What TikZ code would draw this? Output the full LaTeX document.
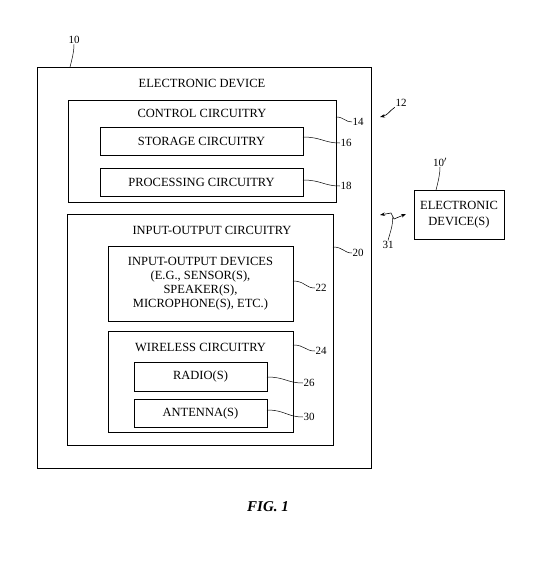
\documentclass[tikz,border=0pt]{standalone}
\usepackage{fontspec}
\setmainfont{Liberation Serif}
\usetikzlibrary{arrows.meta,calc}
\begin{document}
\begin{tikzpicture}[x=1pt,y=-1pt,
  box/.style={draw, line width=0.8pt, inner sep=0pt, align=center, font=\fontsize{12.5}{14}\selectfont},
  txt/.style={inner sep=0pt, align=center, font=\fontsize{12.5}{14}\selectfont},
  lbl/.style={inner sep=0.5pt, font=\fontsize{11}{12}\selectfont},
  lead/.style={line width=0.5pt},
  arr/.style={line width=0.6pt, -{Stealth[length=5pt,width=3.5pt]}},
  darr/.style={line width=0.6pt, {Stealth[length=5pt,width=3.5pt]}-{Stealth[length=5pt,width=3.5pt]}}]
\useasboundingbox (0,0) rectangle (548,562);
% boxes
\node[box, minimum width=334pt, minimum height=401pt] (outer) at (204,267.5) {};
\node[txt] (outertitle) at (202,83) {ELECTRONIC DEVICE};
\node[box, minimum width=268pt, minimum height=102pt] (control) at (202,151) {};
\node[txt] (controltitle) at (202,113) {CONTROL CIRCUITRY};
\node[box, minimum width=203pt, minimum height=28pt] (storage) at (201.5,141) {STORAGE CIRCUITRY};
\node[box, minimum width=203pt, minimum height=28pt] (processing) at (201.5,182) {PROCESSING CIRCUITRY};
\node[box, minimum width=266pt, minimum height=231pt] (io) at (200,329.5) {};
\node[txt] (iotitle) at (212,230) {INPUT-OUTPUT CIRCUITRY};
\node[box, minimum width=185pt, minimum height=75pt] (iodev) at (200.5,283.5) {INPUT-OUTPUT DEVICES\\(E.G., SENSOR(S),\\SPEAKER(S),\\MICROPHONE(S), ETC.)};
\node[box, minimum width=185pt, minimum height=101pt] (wireless) at (200.5,381.5) {};
\node[txt] (wirelesstitle) at (200.5,347) {WIRELESS CIRCUITRY};
\node[box, minimum width=133pt, minimum height=29pt] (radio) at (200.5,376.5) {RADIO(S)};
\node[box, minimum width=133pt, minimum height=28pt] (antenna) at (200.5,413) {ANTENNA(S)};
\node[box, minimum width=90pt, minimum height=49pt, font=\fontsize{12.5}{16}\selectfont] (ext) at (459,214.5) {ELECTRONIC\\DEVICE(S)};
% labels
\node[lbl] (l10) at (74,40) {10};
\node[lbl] (l10p) at (440,162) {10$'$};
\node[lbl] (l12) at (401,103) {12};
\node[lbl, anchor=west] (l14) at (352,122) {14};
\node[lbl, anchor=west] (l16) at (340,143) {16};
\node[lbl, anchor=west] (l18) at (340,186) {18};
\node[lbl, anchor=west] (l20) at (352,253) {20};
\node[lbl, anchor=west] (l22) at (315,288) {22};
\node[lbl, anchor=west] (l24) at (315,351) {24};
\node[lbl, anchor=west] (l26) at (303,383) {26};
\node[lbl, anchor=west] (l30) at (303,417) {30};
\node[lbl] (l31) at (388,245) {31};
\node[inner sep=0pt, font=\fontsize{15}{18}\selectfont\bfseries\itshape] (fig) at (268,507) {FIG. 1};
% leader start points
\coordinate (s10) at (70,67);
\coordinate (s10p) at (436,190);
\coordinate (s14) at (336,117);
\coordinate (s16) at (303,137);
\coordinate (s18) at (303,180);
\coordinate (s20) at (333,247);
\coordinate (s22) at (293,281);
\coordinate (s24) at (293,345);
\coordinate (s26) at (267,377);
\coordinate (s30) at (267,410);
\coordinate (a12) at (380,117);
\coordinate (w1) at (380,215);
\coordinate (w2) at (391,213);
\coordinate (w3) at (394,219);
\coordinate (w4) at (406,214);
\coordinate (w5) at (392.8,216.6);
% leaders
\draw[lead] (s10) .. controls +(2,-8) and +(0,8) .. (l10.south);
\draw[lead] (s10p) .. controls +(2,-8) and +(0,8) .. (l10p.south);
\draw[lead] (s14) .. controls +(8,0) and +(-7,0) .. (l14.west);
\draw[lead] (s16) .. controls +(18,0) and +(-16,0) .. (l16.west);
\draw[lead] (s18) .. controls +(18,0) and +(-16,0) .. (l18.west);
\draw[lead] (s20) .. controls +(10,0) and +(-8,0) .. (l20.west);
\draw[lead] (s22) .. controls +(12,0) and +(-10,0) .. (l22.west);
\draw[lead] (s24) .. controls +(12,0) and +(-10,0) .. (l24.west);
\draw[lead] (s26) .. controls +(18,0) and +(-16,0) .. (l26.west);
\draw[lead] (s30) .. controls +(18,0) and +(-16,0) .. (l30.west);
\draw[arr] (l12.south west) .. controls +(-6,4) and +(8,-2) .. (a12);
\draw[darr] (w1) -- (w2) -- (w3) -- (w4);
\draw[lead] (w5) .. controls +(0,10) and +(2,-8) .. (l31.north);
\end{tikzpicture}
\end{document}
